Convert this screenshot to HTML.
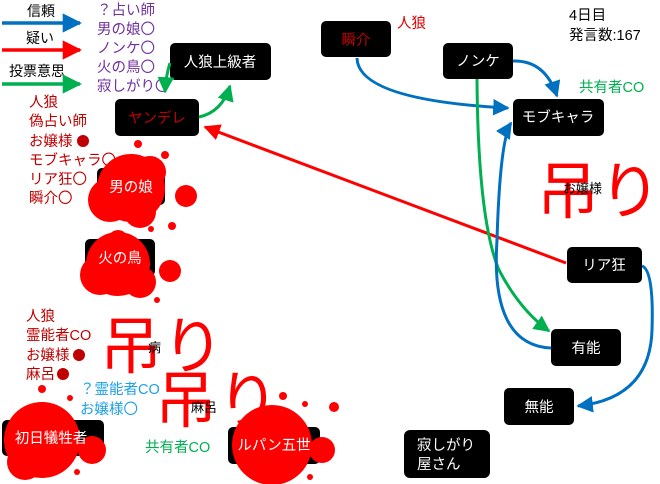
<!DOCTYPE html>
<html><head><meta charset="utf-8"><style>
html,body{margin:0;padding:0;background:#fff;}
svg{display:block;font-family:"Liberation Sans","Noto Sans CJK JP",sans-serif;}
</style></head><body>
<svg width="660" height="484" viewBox="0 0 660 484" xmlns="http://www.w3.org/2000/svg">
<defs>
<marker id="ab" viewBox="0 0 10 10" refX="9" refY="5" markerWidth="5.5" markerHeight="5.5" orient="auto"><path d="M0,0L10,5L0,10z" fill="#0070c0"/></marker>
<marker id="ar" viewBox="0 0 10 10" refX="9" refY="5" markerWidth="5.5" markerHeight="5.5" orient="auto"><path d="M0,0L10,5L0,10z" fill="#ff0000"/></marker>
<marker id="ag" viewBox="0 0 10 10" refX="9" refY="5" markerWidth="5.5" markerHeight="5.5" orient="auto"><path d="M0,0L10,5L0,10z" fill="#00b050"/></marker>
</defs>
<text x="27" y="16" font-size="14">信頼</text>
<line x1="2" y1="23" x2="80" y2="23" stroke="#0070c0" stroke-width="3.5" marker-end="url(#ab)"/>
<text x="26" y="43" font-size="14">疑い</text>
<line x1="2" y1="50" x2="80" y2="50" stroke="#ff0000" stroke-width="3.5" marker-end="url(#ar)"/>
<text x="9" y="76" font-size="14">投票意思</text>
<line x1="2" y1="84" x2="80" y2="84" stroke="#00b050" stroke-width="3.5" marker-end="url(#ag)"/>
<g font-size="14.5" fill="#7030a0">
<text x="97" y="15">？占い師</text><text x="97" y="34">男の娘〇</text><text x="97" y="53">ノンケ〇</text><text x="97" y="72">火の鳥〇</text><text x="97" y="91">寂しがり〇</text>
</g>
<g font-size="14.5" fill="#c00000">
<text x="29" y="107">人狼</text><text x="29" y="126">偽占い師</text><text x="29" y="146">お嬢様</text><text x="29" y="165">モブキャラ〇</text><text x="29" y="184">リア狂〇</text><text x="29" y="203">瞬介〇</text>
<text x="26" y="321">人狼</text><text x="26" y="340">霊能者CO</text><text x="26" y="360">お嬢様</text><text x="26" y="379">麻呂</text>
</g>
<g fill="#c00000"><circle cx="83" cy="141" r="6"/><circle cx="79" cy="355" r="6"/><circle cx="63" cy="374" r="6"/></g>
<g font-size="14.5" fill="#1ea0e6"><text x="80" y="394">？霊能者CO</text><text x="80" y="414">お嬢様〇</text></g>
<text x="145" y="452" font-size="14.5" fill="#00b050">共有者CO</text>
<text x="579" y="92" font-size="14.5" fill="#00b050">共有者CO</text>
<text x="397" y="28" font-size="14.5" fill="#e00000">人狼</text>
<text x="569" y="20" font-size="14.5">4日目</text>
<text x="569" y="40" font-size="14.5">発言数:167</text>
<g font-size="62" fill="#ff0000">
<text x="100" y="368">吊り</text><text x="155" y="422">吊り</text><text x="537" y="213">吊り</text>
</g>
<text x="148" y="352" font-size="13">病</text>
<text x="191" y="412" font-size="13">麻呂</text>
<text x="563" y="193" font-size="13">お嬢様</text>
<g fill="#000">
<rect x="170" y="43" width="101" height="37" rx="5"/>
<rect x="115" y="99" width="84" height="37" rx="5"/>
<rect x="97" y="168" width="68" height="37" rx="5"/>
<rect x="85" y="239" width="70" height="37" rx="5"/>
<rect x="2" y="420" width="102" height="36" rx="5"/>
<rect x="228" y="427" width="92" height="37" rx="5"/>
<rect x="321" y="21" width="70" height="36" rx="5"/>
<rect x="443" y="43" width="70" height="36" rx="5"/>
<rect x="513" y="99" width="91" height="37" rx="5"/>
<rect x="567" y="247" width="75" height="36" rx="5"/>
<rect x="551" y="329" width="70" height="37" rx="5"/>
<rect x="504" y="388" width="70" height="37" rx="5"/>
<rect x="404" y="430" width="86" height="48" rx="6"/>
</g>
<g fill="#ff0000">
<circle cx="131" cy="188" r="34"/><circle cx="110" cy="200" r="22"/><circle cx="150" cy="172" r="16"/><circle cx="140" cy="212" r="16"/>
<circle cx="186" cy="196" r="11"/><circle cx="165" cy="155" r="4"/><circle cx="138" cy="144" r="4"/><circle cx="172" cy="226" r="4"/><circle cx="151" cy="229" r="3"/><circle cx="114" cy="162" r="3"/>
<circle cx="118" cy="264" r="32"/><circle cx="100" cy="275" r="20"/><circle cx="140" cy="282" r="16"/><circle cx="118" cy="240" r="10"/>
<circle cx="170" cy="271" r="11"/><circle cx="157" cy="300" r="3"/>
<circle cx="42" cy="440" r="38"/><circle cx="92" cy="450" r="14"/><circle cx="25" cy="462" r="18"/><circle cx="42" cy="389" r="4"/><circle cx="70" cy="398" r="3"/><circle cx="77" cy="472" r="3"/>
<circle cx="272" cy="445" r="40"/><circle cx="322" cy="450" r="13"/><circle cx="283" cy="396" r="4"/><circle cx="305" cy="404" r="3"/><circle cx="334" cy="407" r="5"/><circle cx="310" cy="477" r="3"/>
</g>
<g font-size="14.5" fill="#fff" text-anchor="middle">
<text x="220" y="67">人狼上級者</text>
<text x="157" y="123" fill="#c00000">ヤンデレ</text>
<text x="131" y="192">男の娘</text>
<text x="120" y="263">火の鳥</text>
<text x="51" y="443">初日犠牲者</text>
<text x="274" y="450">ルパン五世</text>
<text x="356" y="45" fill="#c00000">瞬介</text>
<text x="478" y="66">ノンケ</text>
<text x="558" y="122">モブキャラ</text>
<text x="604" y="270">リア狂</text>
<text x="586" y="353">有能</text>
<text x="539" y="412">無能</text>
</g>
<text x="417" y="450" font-size="14.5" fill="#fff">寂しがり</text>
<text x="417" y="469" font-size="14.5" fill="#fff">屋さん</text>
<g fill="none" stroke-width="3">
<line x1="566" y1="263" x2="205" y2="127" stroke="#ff0000" marker-end="url(#ar)"/>
<path d="M199,117 Q222,112 230,86" stroke="#00b050" marker-end="url(#ag)"/>
<path d="M170,63 Q166,75 165,92" stroke="#00b050" marker-end="url(#ag)"/>
<path d="M357,58 Q358,100 508,108" stroke="#0070c0" marker-end="url(#ab)"/>
<path d="M513,61 Q545,60 557,96" stroke="#0070c0" marker-end="url(#ab)"/>
<path d="M477,79 Q478,220 499,270 Q520,310 549,331" stroke="#00b050" marker-end="url(#ag)"/>
<path d="M551,348 Q490,345 497,240 Q500,140 511,123" stroke="#0070c0" marker-end="url(#ab)"/>
<path d="M642,266 Q654,270 652,330 Q650,398 578,406" stroke="#0070c0" marker-end="url(#ab)"/>
</g>
</svg>
</body></html>
